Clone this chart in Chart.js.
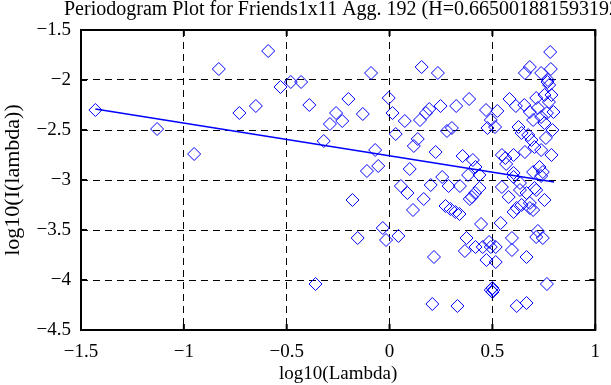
<!DOCTYPE html>
<html>
<head>
<meta charset="utf-8">
<script src="https://cdn.jsdelivr.net/npm/chart.js@4.4.1/dist/chart.umd.min.js"></script>
<style>
  body { margin: 0; background: #fff; }
  #chart { display: block; }
</style>
</head>
<body>
<canvas id="chart" width="611" height="385"></canvas>
<script>
// periodogram points: log10(lambda) and log10(I(lambda))
const lambdaX = [
  -1.43, -1.13, -0.95, -0.83, -0.73, -0.65, -0.59, -0.53, -0.48, -0.43,
  -0.39, -0.36, -0.32, -0.29, -0.26, -0.23, -0.20, -0.18, -0.155, -0.13,
  -0.11, -0.09, -0.07, -0.055, -0.033, -0.017, -0.004, 0.014, 0.030, 0.043,
  0.055, 0.074, 0.087, 0.098, 0.114, 0.118, 0.137, 0.148, 0.156, 0.166,
  0.177, 0.193, 0.200, 0.208, 0.216, 0.224, 0.235, 0.248, 0.256, 0.272,
  0.279, 0.287, 0.296, 0.303, 0.320, 0.324, 0.330, 0.340, 0.342, 0.355,
  0.366, 0.374, 0.382, 0.387, 0.390, 0.400, 0.405, 0.416, 0.418, 0.418,
  0.437, 0.437, 0.445, 0.453, 0.469, 0.471, 0.476, 0.484, 0.492, 0.492,
  0.492, 0.500, 0.513, 0.516, 0.516, 0.524, 0.540, 0.546, 0.546, 0.563,
  0.567, 0.579, 0.583, 0.595, 0.595, 0.603, 0.603, 0.603, 0.614, 0.618,
  0.618, 0.627, 0.634, 0.642, 0.642, 0.655, 0.658, 0.658, 0.666, 0.666,
  0.666, 0.674, 0.682, 0.682, 0.682, 0.690, 0.698, 0.698, 0.698, 0.705,
  0.713, 0.713, 0.713, 0.721, 0.721, 0.729, 0.737, 0.737, 0.737, 0.737,
  0.745, 0.745, 0.753, 0.753, 0.753, 0.760, 0.765, 0.765, 0.768, 0.776,
  0.781, 0.784, 0.787, 0.787, 0.792, 0.797, 0.634, 0.705, 0.682, 0.603,
  0.770, 0.775, 0.500, 0.505
];
const periodY = [
  -2.30, -2.49, -2.74, -1.89, -2.33, -2.26, -1.71, -2.07, -2.02, -2.02,
  -2.25, -4.04, -2.61, -2.44, -2.33, -2.41, -2.19, -3.20, -3.58, -2.34,
  -2.91, -1.93, -2.70, -2.86, -3.48, -3.60, -2.18, -2.33, -2.54, -3.56,
  -3.06, -2.41, -3.13, -2.89, -3.30, -2.66, -2.59, -2.40, -1.87, -3.19,
  -2.33, -2.29, -3.05, -4.24, -3.77, -2.72, -1.93, -2.26, -2.97, -3.26,
  -2.51, -3.06, -3.29, -2.48, -3.32, -2.26, -4.26, -3.34, -3.06, -2.76,
  -3.71, -3.58, -2.95, -2.19, -3.19, -3.17, -2.80, -3.13, -2.87, -3.67,
  -3.08, -2.95, -3.44, -3.67, -2.30, -3.80, -2.48, -3.62, -2.40, -3.67,
  -4.10, -4.08, -2.47, -3.67, -3.82, -2.31, -3.43, -2.75, -3.07, -2.78,
  -2.84, -3.17, -2.19, -3.58, -3.70, -2.75, -2.97, -3.32, -2.26, -3.28,
  -4.26, -2.47, -3.10, -2.53, -3.25, -2.25, -1.93, -2.72, -3.13, -3.77,
  -4.23, -2.55, -1.87, -2.32, -3.23, -2.60, -2.40, -2.92, -3.30, -2.67,
  -2.18, -3.10, -3.57, -2.28, -3.51, -2.87, -1.93, -2.37, -2.70, -2.96,
  -2.92, -3.58, -2.15, -2.43, -3.20, -2.58, -2.33, -4.04, -2.02, -2.05,
  -1.72, -1.89, -2.15, -2.75, -2.50, -2.32, -3.03, -3.08, -3.28, -2.93,
  -2.00, -2.22, -4.12, -4.10
];
// fitted line end points
const fitX = [-1.43, 0.80];
const fitY = [-2.29, -3.02];

const xTicks = [-1.5, -1, -0.5, 0, 0.5, 1];
const yTicks = [-4.5, -4, -3.5, -3, -2.5, -2, -1.5];

const titleText = 'Periodogram Plot for Friends1x11 Agg. 192 (H=0.665001881593192)';

function fmt(v) {
    var r = Math.round(v * 10) / 10;
    return (r < 0 ? '\u2212' : '') + Math.abs(r);
}

var points = lambdaX.map(function (x, i) { return { x: x, y: periodY[i] }; });
var fitLine = fitX.map(function (x, i) { return { x: x, y: fitY[i] }; });

// box, inward ticks and the title (drawn over the axes like the original)
const framePlugin = {
    id: 'frame',
    afterDraw: function (chart) {
        var ctx = chart.ctx;
        var a = chart.chartArea;
        var xs = chart.scales.x, ys = chart.scales.y;
        ctx.save();
        ctx.strokeStyle = '#000';
        ctx.lineWidth = 2;
        ctx.setLineDash([]);
        ctx.strokeRect(a.left, a.top, a.right - a.left, a.bottom - a.top);
        ctx.beginPath();
        xTicks.forEach(function (t) {
            var px = xs.getPixelForValue(t);
            ctx.moveTo(px, a.bottom); ctx.lineTo(px, a.bottom - 6);
            ctx.moveTo(px, a.top); ctx.lineTo(px, a.top + 6);
        });
        yTicks.forEach(function (t) {
            var py = ys.getPixelForValue(t);
            ctx.moveTo(a.left, py); ctx.lineTo(a.left + 6, py);
            ctx.moveTo(a.right, py); ctx.lineTo(a.right - 6, py);
        });
        ctx.stroke();
        ctx.fillStyle = '#000';
        ctx.font = '20px "Liberation Serif"';
        ctx.textAlign = 'left';
        ctx.textBaseline = 'alphabetic';
        ctx.fillText(titleText, 64, 15);
        ctx.restore();
    }
};

var serif = '"Liberation Serif", "DejaVu Serif", serif';

new Chart(document.getElementById('chart'), {
    type: 'scatter',
    data: {
        datasets: [
            {
                type: 'line',
                data: fitLine,
                borderColor: '#0000ff',
                borderWidth: 1.5,
                pointRadius: 0,
                fill: false,
                order: 0
            },
            {
                data: points,
                pointStyle: 'rectRot',
                pointRadius: 6.5,
                pointBorderWidth: 1,
                borderColor: '#0000ff',
                backgroundColor: 'rgba(0,0,0,0)',
                order: 1
            }
        ]
    },
    options: {
        responsive: false,
        animation: false,
        layout: { padding: { left: 0, right: 3, top: 30, bottom: 0 } },
        plugins: {
            legend: { display: false },
            tooltip: { enabled: false },
            title: { display: false }
        },
        scales: {
            x: {
                min: -1.5,
                max: 1,
                afterFit: function (s) { s.height = 55; },
                afterBuildTicks: function (s) { s.ticks = xTicks.map(function (v) { return { value: v }; }); },
                ticks: {
                    color: '#000',
                    padding: 11,
                    font: { family: serif, size: 19 },
                    callback: fmt,
                    maxRotation: 0
                },
                grid: { color: '#000', lineWidth: 1, drawTicks: false },
                border: { display: false, dash: [7, 5] },
                title: {
                    display: true,
                    text: 'log10(Lambda)',
                    color: '#000',
                    padding: { top: 0, bottom: 0 },
                    font: { family: serif, size: 19 }
                }
            },
            y: {
                min: -4.5,
                max: -1.5,
                afterFit: function (s) { s.width = 81; },
                afterBuildTicks: function (s) { s.ticks = yTicks.map(function (v) { return { value: v }; }); },
                ticks: {
                    color: '#000',
                    padding: 10,
                    font: { family: serif, size: 19 },
                    callback: fmt
                },
                grid: { color: '#000', lineWidth: 1, drawTicks: false },
                border: { display: false, dash: [7, 5] },
                title: {
                    display: true,
                    text: 'log10(I(lambda))',
                    color: '#000',
                    padding: { top: 0, bottom: 0 },
                    font: { family: serif, size: 22 }
                }
            }
        }
    },
    plugins: [framePlugin]
});
</script>
</body>
</html>
